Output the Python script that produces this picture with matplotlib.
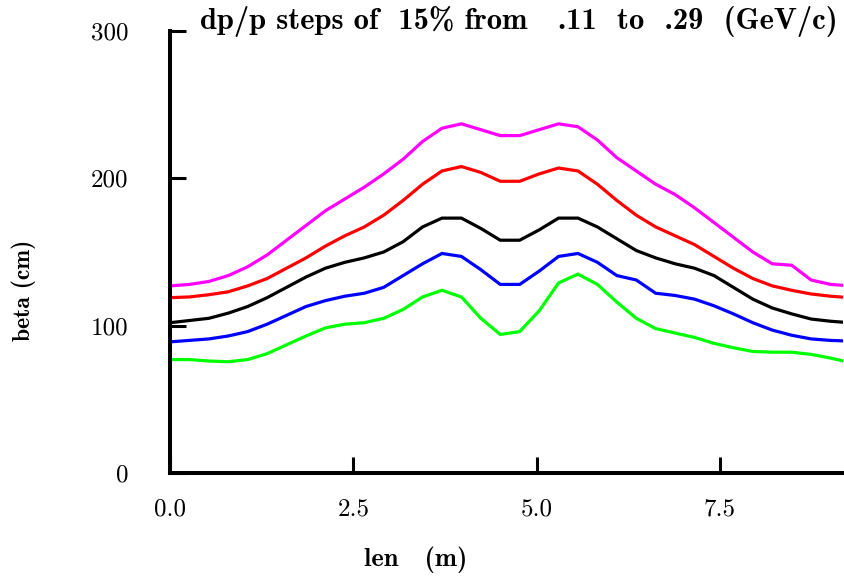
import matplotlib
matplotlib.use("Agg")
import matplotlib.pyplot as plt

# Read Data
length = [0.0, 0.265, 0.53, 0.795, 1.06, 1.325, 1.59, 1.855, 2.12, 2.385,
          2.65, 2.915, 3.18, 3.445, 3.71, 3.975, 4.24, 4.505, 4.77, 5.035,
          5.3, 5.565, 5.83, 6.095, 6.36, 6.625, 6.89, 7.155, 7.42, 7.685,
          7.95, 8.215, 8.48, 8.745, 9.01, 9.275]

beta_029 = [127, 128, 130, 134, 140, 148, 158, 168, 178, 186,
            194, 203, 213, 225, 234, 237, 233, 229, 229, 233,
            237, 235, 226, 214, 205, 196, 189, 180, 170, 160,
            150, 142, 141, 131, 128, 127]
beta_025 = [119, 119.5, 121, 123, 127, 132, 139, 146, 154, 161,
            167, 175, 185, 196, 205, 208, 204, 198, 198, 203,
            207, 205, 196, 185, 175, 167, 161, 155, 147, 139,
            132, 127, 124, 121.5, 120, 119]
beta_020 = [102, 103.5, 105, 108.5, 113, 119, 126, 133, 139, 143,
            146, 150, 157, 167, 173, 173, 166, 158, 158, 165,
            173, 173, 167, 159, 151, 146, 142, 139, 134, 126,
            118, 112, 108, 104.5, 103, 102]
beta_015 = [89, 90, 91, 93, 96, 101, 107, 113, 117, 120,
            122, 126, 134, 142, 149, 147, 138, 128, 128, 137,
            147, 149, 143, 134, 131, 122, 120.5, 118, 113.5, 108,
            102, 97, 93.5, 91, 90, 89.5]
beta_011 = [77, 77, 76, 75.5, 77, 81, 87, 93, 98.5, 101,
            102, 105, 111, 119.5, 124, 119.5, 105, 94, 96, 110,
            129, 135, 128, 116, 105, 98, 95, 92, 88, 85,
            82.5, 82, 82, 80.5, 78, 75]

curves = [(beta_029, "#ff00ff"), (beta_025, "#ff0000"), (beta_020, "#000000"),
          (beta_015, "#0000ff"), (beta_011, "#00ff00")]

xticks = [0.0, 2.5, 5.0, 7.5]
xticklabels = ["0.0", "2.5", "5.0", "7.5"]
yticks = [0, 100, 200, 300]

# Plotting
fig = plt.figure(figsize=(8.44, 5.81), dpi=100)
ax = fig.add_axes([170/844, 108/581, 673/844, 442/581])

for y, c in curves:
    ax.plot(length, y, color=c, linewidth=2.3, solid_joinstyle="miter")

ax.set_xlim(0, 9.18)
ax.set_ylim(0, 300)

for s in ["top", "right"]:
    ax.spines[s].set_visible(False)
for s in ["left", "bottom"]:
    ax.spines[s].set_linewidth(2.9)
    ax.spines[s].set_capstyle("projecting")

ax.set_xticks(xticks)
ax.set_xticklabels(xticklabels, family="cmr10", fontsize=18)
ax.set_yticks(yticks)
ax.set_yticklabels([str(v) for v in yticks], family="cmr10", fontsize=18)
ax.tick_params(axis="both", direction="in", length=11.5, width=2.2)
ax.tick_params(axis="y", pad=30)
ax.tick_params(axis="x", pad=18)

fig.text(0.237, 0.963, "dp/p steps of  15% from   .11  to  .29  (GeV/c)",
         family="cmb10", fontsize=22, ha="left", va="center")
fig.text(0.492, 0.036, "len   (m)", family="cmb10", fontsize=19,
         ha="center", va="center")
fig.text(0.028, 0.50, "beta (cm)", family="cmb10", fontsize=17,
         ha="center", va="center", rotation=90)

fig.savefig("out.png", dpi=100)
